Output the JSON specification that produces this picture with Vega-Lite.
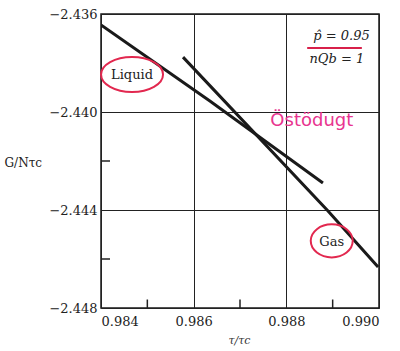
{
  "$schema": "https://vega.github.io/schema/vega-lite/v6.json",
  "width": 278,
  "height": 294,
  "autosize": "none",
  "padding": {"left": 101, "top": 14, "right": 21, "bottom": 43},
  "background": "white",
  "config": {
    "view": {"stroke": "#1a1a1a", "strokeWidth": 1.5},
    "font": "DejaVu Serif"
  },
  "datasets": {
    "curves": [
      {"phase": "liquid", "tau": 0.984, "G": -2.43645},
      {"phase": "liquid", "tau": 0.98635, "G": -2.43955},
      {"phase": "liquid", "tau": 0.98879, "G": -2.4429},
      {"phase": "gas", "tau": 0.98577, "G": -2.43776},
      {"phase": "gas", "tau": 0.9889, "G": -2.44404},
      {"phase": "gas", "tau": 0.98998, "G": -2.44633}
    ]
  },
  "layer": [
    {
      "data": {"name": "curves"},
      "mark": {"type": "line", "color": "#1a1a1a", "strokeWidth": 3, "clip": true},
      "encoding": {
        "x": {
          "field": "tau", "type": "quantitative",
          "scale": {"domain": [0.984, 0.99], "nice": false, "zero": false},
          "axis": {
            "values": [0.984, 0.986, 0.988, 0.99],
            "format": ".3f",
            "labelFont": "DejaVu Serif", "labelFontSize": 13, "labelColor": "#222",
            "labelPadding": 7,
            "ticks": false,
            "domain": false,
            "grid": true, "gridColor": "#222", "gridWidth": 1,
            "title": "τ/τc",
            "titleFont": "DejaVu Serif", "titleFontSize": 11, "titleFontWeight": "normal", "titleFontStyle": "italic", "titleColor": "#333",
            "titleX": 138, "titleY": 32, "titleBaseline": "middle", "titleAnchor": "middle"
          }
        },
        "y": {
          "field": "G", "type": "quantitative",
          "scale": {"domain": [-2.448, -2.436], "nice": false, "zero": false},
          "axis": {
            "values": [-2.448, -2.444, -2.44, -2.436],
            "format": ".3f",
            "labelFont": "DejaVu Serif", "labelFontSize": 13, "labelColor": "#222",
            "labelPadding": 4,
            "ticks": false,
            "domain": false,
            "grid": true, "gridColor": "#222", "gridWidth": 1,
            "title": "G/Nτc",
            "titleFont": "DejaVu Serif", "titleFontSize": 12, "titleFontWeight": "normal", "titleColor": "#222",
            "titleAngle": 0, "titleAlign": "left", "titleBaseline": "middle",
            "titleX": -97, "titleY": 148
          }
        },
        "detail": {"field": "phase", "type": "nominal"}
      }
    },
    {
      "data": {"values": [{"tau": 0.985, "G": -2.448}, {"tau": 0.987, "G": -2.448}, {"tau": 0.989, "G": -2.448}]},
      "mark": {"type": "tick", "orient": "vertical", "size": 17, "thickness": 1.5, "color": "#222", "opacity": 1, "clip": true},
      "encoding": {
        "x": {"field": "tau", "type": "quantitative"},
        "y": {"field": "G", "type": "quantitative"}
      }
    },
    {
      "data": {"values": [{"tau": 0.984, "G": -2.442}, {"tau": 0.984, "G": -2.446}]},
      "mark": {"type": "tick", "orient": "horizontal", "size": 18, "thickness": 1.5, "color": "#222", "opacity": 1, "clip": true},
      "encoding": {
        "x": {"field": "tau", "type": "quantitative"},
        "y": {"field": "G", "type": "quantitative"}
      }
    },
    {
      "data": {"values": [{"tau": 0.98467, "G": -2.43849, "label": "Liquid"}, {"tau": 0.98898, "G": -2.44531, "label": "Gas"}]},
      "mark": {"type": "text", "font": "DejaVu Serif", "fontSize": 13, "color": "#222", "align": "center", "baseline": "middle"},
      "encoding": {
        "x": {"field": "tau", "type": "quantitative"},
        "y": {"field": "G", "type": "quantitative"},
        "text": {"field": "label"}
      }
    },
    {
      "data": {"values": [{"tau": 0.98467, "G": -2.43847}]},
      "mark": {"type": "point", "shape": "M-1,0 A1,0.565 0 1,0 1,0 A1,0.565 0 1,0 -1,0", "size": 3844, "filled": false, "stroke": "#e2284f", "strokeWidth": 2, "opacity": 1},
      "encoding": {
        "x": {"field": "tau", "type": "quantitative"},
        "y": {"field": "G", "type": "quantitative"}
      }
    },
    {
      "data": {"values": [{"tau": 0.98898, "G": -2.44526}]},
      "mark": {"type": "point", "shape": "M-1,0 A1,0.786 0 1,0 1,0 A1,0.786 0 1,0 -1,0", "size": 1764, "filled": false, "stroke": "#e2284f", "strokeWidth": 2, "opacity": 1},
      "encoding": {
        "x": {"field": "tau", "type": "quantitative"},
        "y": {"field": "G", "type": "quantitative"}
      }
    },
    {
      "data": {"values": [{"tau": 0.98855, "G": -2.44037, "label": "Östödugt"}]},
      "mark": {"type": "text", "font": "DejaVu Sans", "fontSize": 18, "fontWeight": "normal", "color": "#e8358f", "align": "center", "baseline": "middle"},
      "encoding": {
        "x": {"field": "tau", "type": "quantitative"},
        "y": {"field": "G", "type": "quantitative"},
        "text": {"field": "label"}
      }
    },
    {
      "data": {"values": [{"tau": 0.9898, "G": -2.4369, "label": "p̂ = 0.95"}, {"tau": 0.98968, "G": -2.43784, "label": "nQb = 1"}]},
      "mark": {"type": "text", "font": "DejaVu Serif", "fontSize": 13, "fontStyle": "italic", "color": "#222", "align": "right", "baseline": "middle"},
      "encoding": {
        "x": {"field": "tau", "type": "quantitative"},
        "y": {"field": "G", "type": "quantitative"},
        "text": {"field": "label"}
      }
    },
    {
      "data": {"values": [{"tau": 0.98845, "tau2": 0.98963, "G": -2.43739}]},
      "mark": {"type": "rule", "color": "#d8204a", "strokeWidth": 2},
      "encoding": {
        "x": {"field": "tau", "type": "quantitative"},
        "x2": {"field": "tau2"},
        "y": {"field": "G", "type": "quantitative"}
      }
    }
  ]
}
